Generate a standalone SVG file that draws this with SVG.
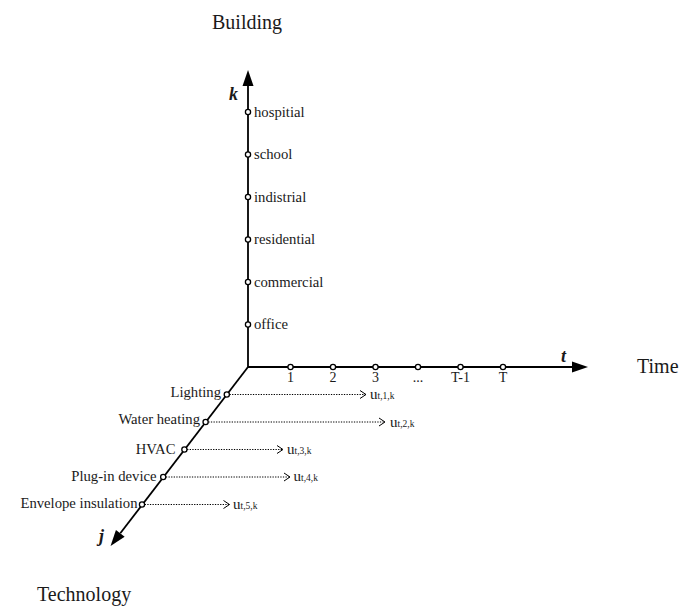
<svg xmlns="http://www.w3.org/2000/svg" width="693" height="606" viewBox="0 0 693 606">
<style>
text{font-family:"Liberation Serif","Times New Roman",serif;fill:#1a1a1a}
.title{font-size:20px}
.lbl{font-size:14.7px}
.num{font-size:14px;text-anchor:middle}
.ax{font-size:18px;font-weight:bold;font-style:italic}
.u{font-size:15px}
.sub{font-size:9.5px}
.axis{stroke:#000;stroke-width:1.8;fill:none}
.tick{fill:#fff;stroke:#000;stroke-width:1.3}
.dot{stroke:#000;stroke-width:1;stroke-dasharray:1.3 1.3;fill:none}
</style>
<defs>
<marker id="ah" markerUnits="userSpaceOnUse" markerWidth="17" markerHeight="12" refX="0" refY="5.5" orient="auto" overflow="visible">
<path d="M0,0 L16,5.5 L0,11 z" fill="#000"/>
</marker>
<marker id="ch" markerUnits="userSpaceOnUse" markerWidth="8" markerHeight="10" refX="6" refY="4" orient="auto" overflow="visible">
<path d="M0,0 L6,4 L0,8" fill="none" stroke="#000" stroke-width="1"/>
</marker>
</defs>

<g id="titles">
<text class="title" x="212" y="29">Building</text>
<text class="title" x="637" y="373">Time</text>
<text class="title" x="37" y="601">Technology</text>
</g>

<g id="connectors">
<line class="axis" x1="248" y1="367" x2="248" y2="86" marker-end="url(#ah)"/>
<line class="axis" x1="248" y1="367" x2="572" y2="367" marker-end="url(#ah)"/>
<line class="axis" x1="248" y1="367" x2="120.3" y2="533.3" marker-end="url(#ah)"/>
<line class="dot" x1="229.5" y1="394.5" x2="366" y2="394.5" marker-end="url(#ch)"/>
<line class="dot" x1="208.3" y1="422" x2="385" y2="422" marker-end="url(#ch)"/>
<line class="dot" x1="187.1" y1="449.5" x2="283" y2="449.5" marker-end="url(#ch)"/>
<line class="dot" x1="165.9" y1="477" x2="290" y2="477" marker-end="url(#ch)"/>
<line class="dot" x1="144.7" y1="504.5" x2="229.5" y2="504.5" marker-end="url(#ch)"/>
</g>

<g id="axis-labels">
<text class="ax" x="229" y="100">k</text>
<text class="ax" x="561" y="362">t</text>
<text class="ax" x="99" y="542">j</text>
</g>

<g id="k-hospitial"><circle class="tick" cx="248" cy="112" r="2.6"/><text class="lbl" x="254" y="116.5">hospitial</text></g>
<g id="k-school"><circle class="tick" cx="248" cy="154.5" r="2.6"/><text class="lbl" x="254" y="159">school</text></g>
<g id="k-indistrial"><circle class="tick" cx="248" cy="197" r="2.6"/><text class="lbl" x="254" y="201.5">indistrial</text></g>
<g id="k-residential"><circle class="tick" cx="248" cy="239.5" r="2.6"/><text class="lbl" x="254" y="244">residential</text></g>
<g id="k-commercial"><circle class="tick" cx="248" cy="282" r="2.6"/><text class="lbl" x="254" y="286.5">commercial</text></g>
<g id="k-office"><circle class="tick" cx="248" cy="324.5" r="2.6"/><text class="lbl" x="254" y="329">office</text></g>

<g id="t-1"><circle class="tick" cx="290.5" cy="367" r="2.6"/><text class="num" x="290.5" y="382">1</text></g>
<g id="t-2"><circle class="tick" cx="333" cy="367" r="2.6"/><text class="num" x="333" y="382">2</text></g>
<g id="t-3"><circle class="tick" cx="375.5" cy="367" r="2.6"/><text class="num" x="375.5" y="382">3</text></g>
<g id="t-dots"><circle class="tick" cx="418" cy="367" r="2.6"/><text class="num" x="418" y="382">...</text></g>
<g id="t-Tm1"><circle class="tick" cx="460.5" cy="367" r="2.6"/><text class="num" x="460.5" y="382">T-1</text></g>
<g id="t-T"><circle class="tick" cx="503" cy="367" r="2.6"/><text class="num" x="503" y="382">T</text></g>

<g id="j-lighting"><circle class="tick" cx="226.8" cy="394.5" r="2.6"/><text class="lbl" x="221" y="397" text-anchor="end">Lighting</text></g>
<g id="j-water"><circle class="tick" cx="205.6" cy="422" r="2.6"/><text class="lbl" x="200" y="423.5" text-anchor="end">Water heating</text></g>
<g id="j-hvac"><circle class="tick" cx="184.4" cy="449.5" r="2.6"/><text class="lbl" x="175.5" y="454" text-anchor="end">HVAC</text></g>
<g id="j-plugin"><circle class="tick" cx="163.2" cy="477" r="2.6"/><text class="lbl" x="156.5" y="481" text-anchor="end">Plug-in device</text></g>
<g id="j-envelope"><circle class="tick" cx="142" cy="504.5" r="2.6"/><text class="lbl" x="137.5" y="507.5" text-anchor="end">Envelope insulation</text></g>

<g id="u1"><text x="370" y="399"><tspan class="u">u</tspan><tspan class="sub">t,1,k</tspan></text></g>
<g id="u2"><text x="390" y="426.5"><tspan class="u">u</tspan><tspan class="sub">t,2,k</tspan></text></g>
<g id="u3"><text x="287" y="454"><tspan class="u">u</tspan><tspan class="sub">t,3,k</tspan></text></g>
<g id="u4"><text x="293.5" y="481"><tspan class="u">u</tspan><tspan class="sub">t,4,k</tspan></text></g>
<g id="u5"><text x="233" y="508.5"><tspan class="u">u</tspan><tspan class="sub">t,5,k</tspan></text></g>
</svg>
